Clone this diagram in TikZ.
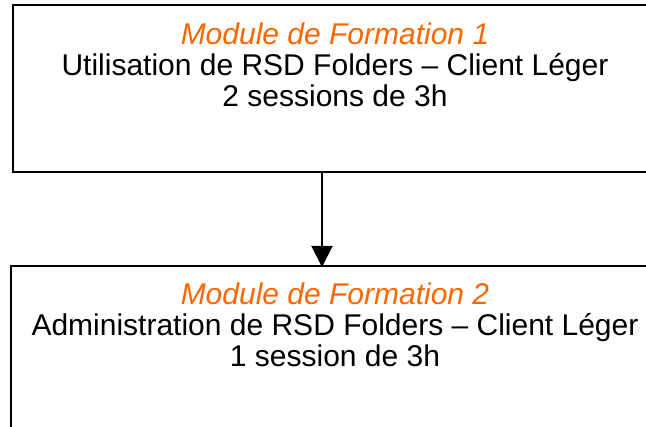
\documentclass[tikz,border=0pt]{standalone}
\usepackage{fontspec}
\setmainfont{Liberation Sans}
\usetikzlibrary{arrows.meta,positioning}
\definecolor{modorange}{HTML}{FF6600}

\begin{document}
\begin{tikzpicture}[x=1pt,y=1pt]
    \tikzstyle{module}=[rectangle, draw=black, line width=2pt, minimum width=644pt, minimum height=167pt, inner sep=0pt]
    \tikzstyle{intitule}=[align=center, inner sep=0pt, font=\fontsize{30}{31}\selectfont]
    \tikzstyle{connect}=[-{Triangle[width=21pt,length=21pt]}, line width=2pt]
    \useasboundingbox (0,0) rectangle (646,-427);
    \clip (0,0) rectangle (646,-427);

      \node[module] (mod1) at (335,-88.5) {};
      \node[module, minimum width=648pt] (mod2) at (335,-349.5) {};
      \node[intitule, anchor=north] (txt1) at ([yshift=-19pt]mod1.north)
        {{\itshape\color{modorange}Module de Formation 1}\\
         Utilisation de RSD Folders – Client Léger\\
         2 sessions de 3h};
      \node[intitule, anchor=north] (txt2) at ([yshift=-18pt]mod2.north)
        {{\itshape\color{modorange}Module de Formation 2}\\
         Administration de RSD Folders – Client Léger\\
         1 session de 3h};
      \path
        ([xshift=-13pt]mod1.south) edge [connect] ([xshift=-13pt,yshift=-2pt]mod2.north);
    \end{tikzpicture}
\end{document}
